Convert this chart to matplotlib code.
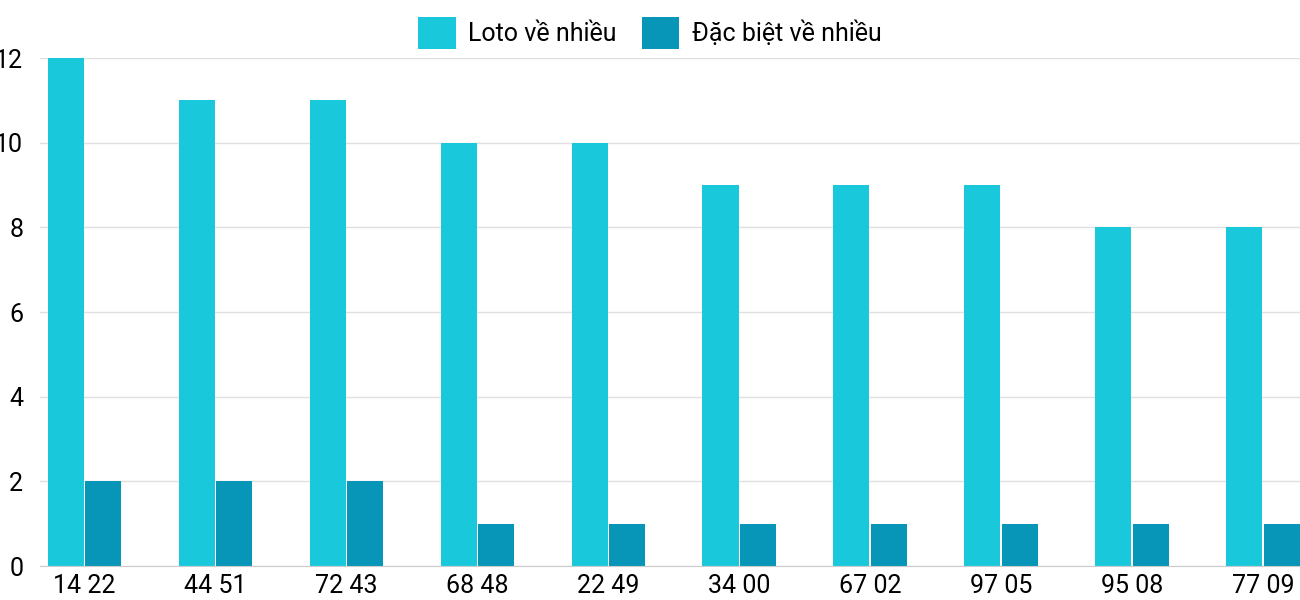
import matplotlib
matplotlib.use("Agg")
import matplotlib.pyplot as plt
import numpy as np

plt.rcParams['font.family'] = ['Roboto', 'DejaVu Sans']

categories = ["14 22", "44 51", "72 43", "68 48", "22 49", "34 00", "67 02", "97 05", "95 08", "77 09"]
loto = [12, 11, 11, 10, 10, 9, 9, 9, 8, 8]
dacbiet = [2, 2, 2, 1, 1, 1, 1, 1, 1, 1]

fig = plt.figure(figsize=(13, 6), dpi=100)
ax = fig.add_axes([40/1300, 34/600, 1260/1300, 508/600])
x = np.arange(len(categories))
w = 0.275
ax.bar(x - w/2 - 0.007, loto, w, color="#1AC8DB", label="Loto về nhiều")
ax.bar(x + w/2 + 0.007, dacbiet, w, color="#0795B8", label="Đặc biệt về nhiều")
ax.set_xlim(-0.34, 9.28)
ax.set_ylim(0, 12)
ax.set_yticks(range(0, 13, 2))
ax.set_xticks(x)
ax.set_xticklabels(categories, fontsize=18)
ax.tick_params(axis='y', labelsize=18, length=0, pad=12)
ax.tick_params(axis='x', length=0, pad=6)
ax.grid(axis='y', color="#e0e0e0", linewidth=1)
ax.set_axisbelow(True)
for s in ["top", "right", "left"]:
    ax.spines[s].set_visible(False)
ax.spines["bottom"].set_color("#cccccc")
fig.legend(loc="upper center", bbox_to_anchor=(0.5, 1.01), ncol=2, frameon=False,
           fontsize=18, handlelength=1.5, handleheight=1.6, columnspacing=1.0, handletextpad=0.5)
fig.savefig("out.png")
